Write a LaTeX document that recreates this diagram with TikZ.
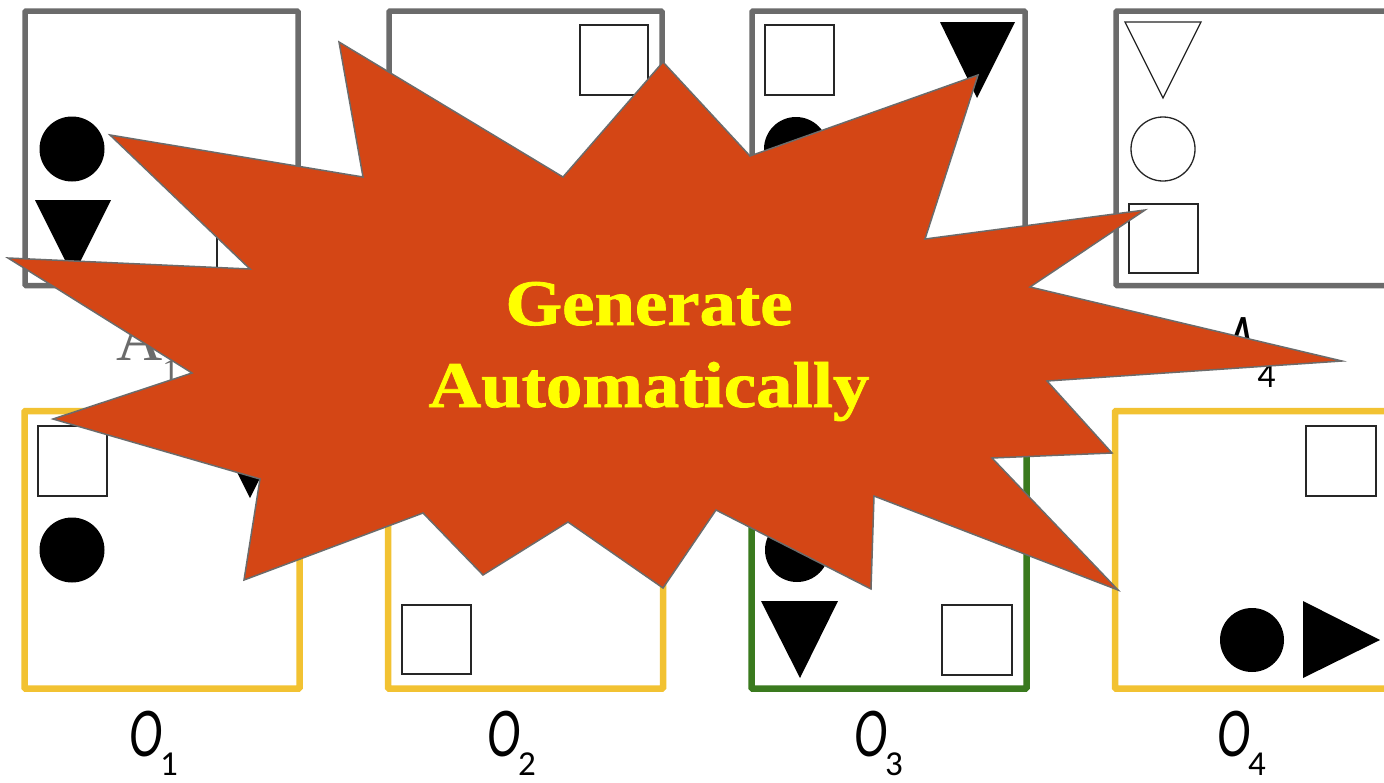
\documentclass[tikz,border=0pt]{standalone}
\usepackage{fontspec}
\newfontfamily\burstfont[FakeStretch=1.12,FakeBold=1.2]{Liberation Serif}
\newfontfamily\lblfont[FakeStretch=0.72]{Carlito}
\newfontfamily\digfont{Carlito}
\newfontfamily\serlbl{Liberation Serif}
\definecolor{panelgray}{HTML}{6B6B6B}
\definecolor{panelyellow}{HTML}{F2C232}
\definecolor{panelgreen}{HTML}{3A7A1E}
\definecolor{burstred}{HTML}{D44615}
\definecolor{burstline}{HTML}{6B6B6B}
\definecolor{textyellow}{HTML}{FFFF00}
\begin{document}
\begin{tikzpicture}[x=1pt,y=-1pt,
  toppanel/.style={draw=panelgray,line width=5.5pt,rounded corners=1pt},
  botpanel/.style={draw=panelyellow,line width=6.5pt,rounded corners=1pt},
  greenpanel/.style={draw=panelgreen,line width=6.5pt,rounded corners=1pt},
  ol/.style={draw=black!85,line width=1.3pt},
  fl/.style={fill=black},
  olabel/.style={anchor=base west,inner sep=0pt,font=\lblfont\itshape\fontsize{70}{70}\selectfont},
  burst/.style={fill=burstred,draw=burstline,line width=1.5pt,line join=miter},
  bursttext/.style={anchor=base,inner sep=0pt,text=textyellow,font=\burstfont\bfseries\fontsize{65}{65}\selectfont}]
\useasboundingbox (0,0) rectangle (1384,782);
\fill[white] (0,0) rectangle (1384,782);
% ---------- top panels ----------
\draw[toppanel] (25,11) rectangle (298,285.5);
\draw[toppanel] (389,11) rectangle (662,285.5);
\draw[toppanel] (752,11) rectangle (1025,285.5);
\draw[toppanel] (1116,11) rectangle (1389,285.5);
% A1
\fill[fl] (72,149) circle[radius=32.5pt];
\fill[fl] (35,200) -- (111,200) -- (73,276) -- cycle;
\draw[ol] (217,204) rectangle (286,273);
% A2
\draw[ol] (580,25) rectangle (648,95);
% A3
\draw[ol] (765,25) rectangle (834,95);
\fill[fl] (940,22) -- (1015,22) -- (977,98) -- cycle;
\fill[fl] (796,149) circle[radius=32pt];
% A4
\draw[ol] (1125,22) -- (1201,22) -- (1163,98) -- cycle;
\draw[ol] (1163,149) circle[radius=32pt];
\draw[ol] (1129,204) rectangle (1198,273);
% ---------- bottom panels ----------
\draw[botpanel] (24.5,411) rectangle (299.5,688.5);
\draw[botpanel] (388,411) rectangle (663,688.5);
\draw[greenpanel] (751.5,411) rectangle (1026.5,688.5);
\draw[botpanel] (1115,411) rectangle (1390,688.5);
% O1
\draw[ol] (38,426) rectangle (107,496);
\fill[fl] (72,550) circle[radius=32.5pt];
\fill[fl] (212,422) -- (288,422) -- (250,498) -- cycle;
% O2
\draw[ol] (402,605) rectangle (471,674);
% O3
\fill[fl] (797,550) circle[radius=32pt];
\fill[fl] (761,601) -- (838,601) -- (800,678) -- cycle;
\draw[ol] (942,605) rectangle (1012,675);
% O4
\draw[ol] (1306,426) rectangle (1376,496);
\fill[fl] (1252,640) circle[radius=32pt];
\fill[fl] (1303,601) -- (1380,640) -- (1303,678) -- cycle;
% ---------- labels ----------
\node[anchor=base west,inner sep=0pt,text=panelgray,font=\serlbl\fontsize{64}{64}\selectfont] (a1) at (116,360) {A\raisebox{-22pt}{\fontsize{34}{34}\selectfont 1}};
\node[olabel] (a4) at (1226,362) {A\kern2pt\raisebox{-25pt}{\digfont\upshape\fontsize{36}{36}\selectfont 4}};
\node[olabel] (o1) at (129,756) {O\kern-2pt\raisebox{-19pt}{\digfont\upshape\fontsize{35}{35}\selectfont 1}};
\node[olabel] (o2) at (487,756) {O\kern-2pt\raisebox{-19pt}{\digfont\upshape\fontsize{35}{35}\selectfont 2}};
\node[olabel] (o3) at (854,756) {O\kern-2pt\raisebox{-19pt}{\digfont\upshape\fontsize{35}{35}\selectfont 3}};
\node[olabel] (o4) at (1217,756) {O\kern-2pt\raisebox{-19pt}{\digfont\upshape\fontsize{35}{35}\selectfont 4}};
% ---------- starburst ----------
\draw[burst] (8,258) -- (250,269) -- (110,135) -- (363,177) -- (339,42) -- (563,177)
  -- (663,62) -- (750,156) -- (978,75) -- (925,239) -- (1145,210) -- (1030,287)
  -- (1342,361) -- (1047,381) -- (1112,453) -- (992,458) -- (1118,590) -- (874,496)
  -- (871,589) -- (716,510) -- (663,588) -- (568,522) -- (483,575) -- (423,513)
  -- (244,580) -- (260,479) -- (53,419) -- (192,373) -- cycle;
\node[bursttext] (gen) at (649,325) {Generate};
\node[bursttext] (auto) at (649,407) {Automatically};
\end{tikzpicture}
\end{document}
